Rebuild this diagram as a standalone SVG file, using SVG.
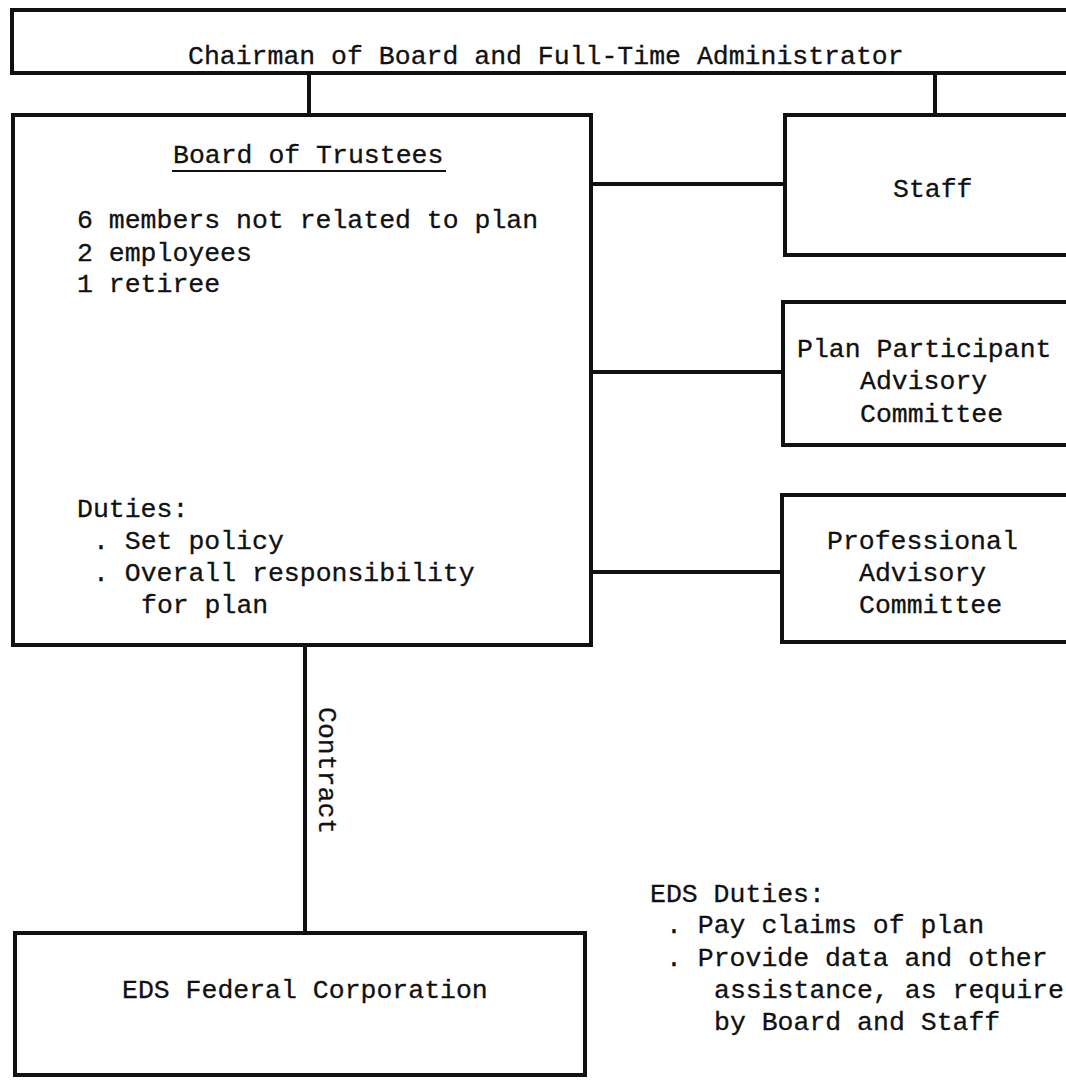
<svg xmlns="http://www.w3.org/2000/svg" width="1066" height="1081" viewBox="0 0 1066 1081">
<style>
.bx{fill:none;stroke:#111;stroke-width:4;stroke-linejoin:miter}
.cn{fill:none;stroke:#111;stroke-width:4}
.t{font-family:"Liberation Mono","Courier New",monospace;font-size:26.5px;fill:#111;stroke:#111;stroke-width:0.3}
</style>
<rect width="1066" height="1081" fill="#fff"/>
<g id="connectors">
<line class="cn" x1="309" y1="73" x2="309" y2="115"/>
<line class="cn" x1="935" y1="73" x2="935" y2="115"/>
<line class="cn" x1="591" y1="184" x2="785" y2="184"/>
<line class="cn" x1="591" y1="372" x2="783" y2="372"/>
<line class="cn" x1="591" y1="572" x2="782" y2="572"/>
<line class="cn" x1="305" y1="645" x2="305" y2="933" stroke-width="3.5"/>
<text class="t" transform="translate(319,707) rotate(90)">Contract</text>
</g>
<g id="chairman">
<path class="bx" d="M1070,10 H12 V73 H1070"/>
<text class="t" x="188" y="64">Chairman of Board and Full-Time Administrator</text>
</g>
<g id="board">
<rect class="bx" x="13" y="115" width="578" height="530"/>
<text class="t" x="173" y="163">Board of Trustees</text>
<line x1="172" y1="171" x2="446" y2="171" stroke="#111" stroke-width="2"/>
<text class="t" x="77" y="228">6 members not related to plan</text>
<text class="t" x="77" y="261">2 employees</text>
<text class="t" x="77" y="292">1 retiree</text>
<text class="t" x="77" y="517">Duties:</text>
<text class="t" x="93" y="549">. Set policy</text>
<text class="t" x="93" y="581">. Overall responsibility</text>
<text class="t" x="141" y="613">for plan</text>
</g>
<g id="staff">
<path class="bx" d="M1070,115 H785 V255 H1070"/>
<text class="t" x="893" y="197">Staff</text>
</g>
<g id="ppac">
<path class="bx" d="M1070,302 H783 V445 H1070"/>
<text class="t" x="797" y="357">Plan Participant</text>
<text class="t" x="860" y="389">Advisory</text>
<text class="t" x="860" y="422">Committee</text>
</g>
<g id="pac">
<path class="bx" d="M1070,495 H782 V642 H1070"/>
<text class="t" x="827" y="549">Professional</text>
<text class="t" x="859" y="581">Advisory</text>
<text class="t" x="859" y="613">Committee</text>
</g>
<g id="eds">
<rect class="bx" x="15" y="933" width="570" height="142"/>
<text class="t" x="122" y="998">EDS Federal Corporation</text>
</g>
<g id="eds-duties">
<text class="t" x="650" y="902">EDS Duties:</text>
<text class="t" x="666" y="933">. Pay claims of plan</text>
<text class="t" x="666" y="966">. Provide data and other</text>
<text class="t" x="714" y="998">assistance, as require</text>
<text class="t" x="714" y="1030">by Board and Staff</text>
</g>
</svg>
